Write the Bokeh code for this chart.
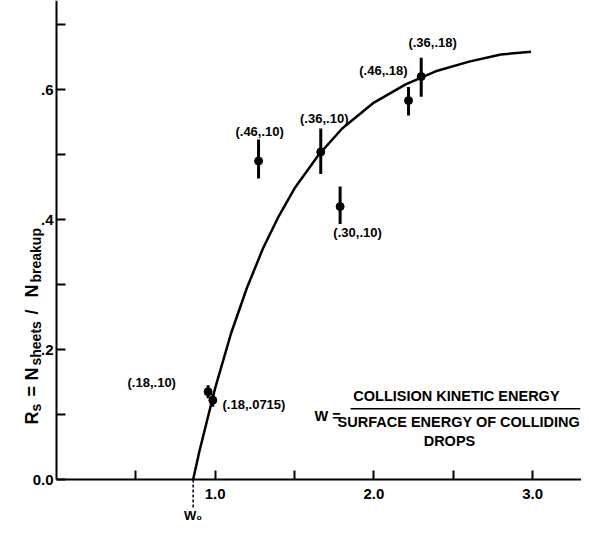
import math
from bokeh.plotting import figure
from bokeh.models import Range1d, FixedTicker, Label, Arrow, ColumnDataSource
from bokeh.core.properties import value
from bokeh.embed import file_html
from bokeh.resources import INLINE

# ---- data ----
curve_x = [0.861, 0.90, 1.0, 1.1, 1.2, 1.3, 1.4, 1.5, 1.65, 1.8, 2.0, 2.2, 2.4, 2.6, 2.8, 2.99]
curve_y = [0.0, 0.043, 0.141, 0.225, 0.295, 0.355, 0.405, 0.448, 0.499, 0.540, 0.580, 0.608, 0.629, 0.643, 0.654, 0.658]

pt_labels = ["(.18,.10)", "(.18,.0715)", "(.46,.10)", "(.36,.10)", "(.30,.10)", "(.46,.18)", "(.36,.18)"]
pt_x = [0.955, 0.985, 1.273, 1.665, 1.787, 2.218, 2.298]
pt_y = [0.135, 0.122, 0.490, 0.504, 0.420, 0.583, 0.620]
err_lo = [0.125, 0.112, 0.463, 0.470, 0.393, 0.560, 0.589]
err_hi = [0.145, 0.132, 0.523, 0.540, 0.451, 0.604, 0.649]

lab_x = [0.60, 1.046, 1.28, 1.687, 1.897, 2.06, 2.37]
lab_y = [0.150, 0.115, 0.535, 0.556, 0.380, 0.630, 0.672]
lab_align = ["center", "left", "center", "center", "center", "center", "center"]

w0 = 0.861
x_major = [1.0, 2.0, 3.0]
x_minor = [0.5, 1.5, 2.5]
x_tick_labels = ["1.0", "2.0", "3.0"]
y_major = [0.0, 0.2, 0.4, 0.6]
y_minor = [0.1, 0.3, 0.5, 0.7]
y_tick_labels = ["0.0", ".2", ".4", ".6"]

FONT = "Liberation Sans"

# frame fills the whole canvas; axes are pinned at x=0 / y=0
p = figure(frame_width=581, frame_height=526, output_backend="svg", toolbar_location=None,
           x_range=Range1d(-0.353, 3.308), y_range=Range1d(-0.0723, 0.737),
           min_border=0)
p.grid.visible = False
p.outline_line_color = None
p.background_fill_color = "white"
p.border_fill_color = "white"

p.xaxis.fixed_location = 0
p.yaxis.fixed_location = 0
p.xaxis.bounds = (0, 3.308)
p.yaxis.bounds = (0, 0.737)

p.xaxis.ticker = FixedTicker(ticks=x_major, minor_ticks=x_minor)
p.xaxis.major_label_overrides = {t: s for t, s in zip(x_major, x_tick_labels)}
p.yaxis.ticker = FixedTicker(ticks=y_major, minor_ticks=y_minor)
p.yaxis.major_label_overrides = {t: s for t, s in zip(y_major, y_tick_labels)}
for ax in (p.xaxis, p.yaxis):
    ax.axis_line_width = 2
    ax.axis_line_color = "black"
    ax.major_tick_in = 9
    ax.major_tick_out = 0
    ax.minor_tick_in = 9
    ax.minor_tick_out = 0
    ax.major_tick_line_width = 2
    ax.minor_tick_line_width = 2
    ax.major_tick_line_color = "black"
    ax.minor_tick_line_color = "black"
    ax.major_label_text_font = FONT
    ax.major_label_text_font_style = "bold"
    ax.major_label_text_font_size = "15px"
    ax.major_label_text_color = "black"
p.xaxis.major_label_standoff = 9
p.yaxis.major_label_standoff = 3

# curve
p.line(curve_x, curve_y, line_color="black", line_width=2.5)

# error bars and points
src = ColumnDataSource(dict(x=pt_x, y=pt_y, lo=err_lo, hi=err_hi))
p.segment(x0="x", y0="lo", x1="x", y1="hi", source=src, line_color="black", line_width=3)
p.scatter(x="x", y="y", source=src, size=8, color="black")

lsrc = ColumnDataSource(dict(x=lab_x, y=lab_y, t=pt_labels, a=lab_align))
p.text(x="x", y="y", text="t", text_align="a", source=lsrc, text_baseline="middle",
       text_font=value(FONT), text_font_size="13px", text_font_style="bold", text_color="black")

# W0 marker below axis
p.add_layout(Arrow(end=None, start=None, x_start=w0, y_start=0, x_end=w0, y_end=-0.043,
                   line_color="black", line_width=1.5, line_dash="3 2"))
p.add_layout(Label(x=w0, y=-0.056, text="W₀", text_align="center", text_baseline="middle",
                   text_font=FONT, text_font_style="bold", text_font_size="13px", text_color="black"))

# W definition
txt = dict(text_font=FONT, text_font_style="bold", text_font_size="14.5px", text_color="black",
           text_baseline="middle")
p.add_layout(Label(x=1.626, y=0.097, text="W =", text_align="left", **txt))
p.add_layout(Label(x=2.52, y=0.128, text="COLLISION KINETIC ENERGY", text_align="center", **txt))
p.line([1.853, 3.30], [0.109, 0.109], line_color="black", line_width=1.5)
p.add_layout(Label(x=2.535, y=0.089, text="SURFACE ENERGY OF COLLIDING", text_align="center", **txt))
p.add_layout(Label(x=2.476, y=0.060, text="DROPS", text_align="center", **txt))

# y label: R_s = N_sheets / N_breakup (rotated, bottom-to-top)
def yl(yref, text, sub):
    xd = (39 - 64) / 158.7 + (0.026 if sub else 0.0)
    yd = (487 - yref) / 650
    p.add_layout(Label(x=xd, y=yd, text=text, angle=math.pi / 2, text_align="left",
                       text_baseline="alphabetic", text_font=FONT, text_font_style="bold",
                       text_font_size="14px" if sub else "18px", text_color="black"))

yl(432, "R", False)
yl(419, "s", True)
yl(404, "=", False)
yl(388, "N", False)
yl(373, "sheets", True)
yl(322, "/", False)
yl(305, "N", False)
yl(290, "breakup", True)

open("out.html", "w").write(file_html(p, INLINE))
